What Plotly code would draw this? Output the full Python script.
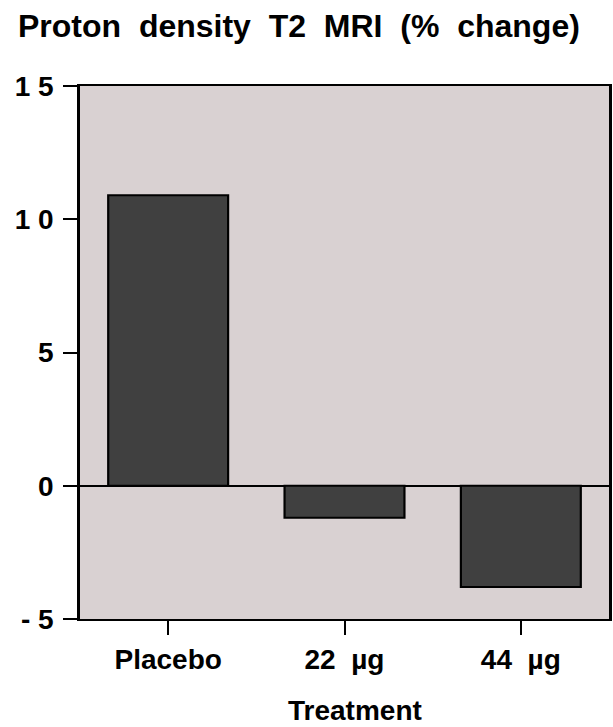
import plotly.graph_objects as go

categories = ["Placebo", "22  µg", "44  µg"]
values = [10.9, -1.2, -3.8]
y_tick_vals = [-5, 0, 5, 10, 15]
y_tick_text = ["- 5", "0", "5", "1 0", "1 5"]
title_text = "Proton  density  T2  MRI  (%  change)"
x_title = "Treatment"

FONT = "Liberation Sans, Arial, sans-serif"

fig = go.Figure()
fig.add_trace(go.Bar(
    x=list(range(len(categories))),
    y=values,
    width=0.68,
    marker=dict(color="#404040", line=dict(color="black", width=2.2)),
    hoverinfo="skip",
))

fig.update_layout(
    width=613, height=727,
    margin=dict(l=80, r=1, t=86, b=108),
    paper_bgcolor="white",
    plot_bgcolor="#d9d1d2",
    showlegend=False,
    font=dict(family=FONT, color="black", size=27, weight="bold"),
    annotations=[
        dict(text=title_text, xref="paper", yref="paper", x=0.414, y=1.0,
             yshift=60, xanchor="center", yanchor="middle", showarrow=False,
             font=dict(family=FONT, size=32, weight="bold", color="black")),
        dict(text=x_title, xref="paper", yref="paper", x=0.52, y=0,
             yshift=-91, xanchor="center", yanchor="middle", showarrow=False,
             font=dict(family=FONT, size=28, weight="bold", color="black")),
    ],
)

fig.update_xaxes(
    range=[-0.5, 2.5],
    tickvals=list(range(len(categories))),
    ticktext=categories,
    ticks="outside", ticklen=14, tickwidth=2, tickcolor="black",
    showline=True, linecolor="black", linewidth=2, mirror=True,
    showgrid=False, zeroline=False,
    tickfont=dict(family=FONT, size=28, weight="bold"),
)
fig.update_yaxes(
    range=[-5, 15],
    tickvals=y_tick_vals,
    ticktext=y_tick_text,
    ticks="outside", ticklen=14, tickwidth=2, tickcolor="black",
    ticklabelstandoff=4,
    showline=True, linecolor="black", linewidth=2.5, mirror=True,
    showgrid=False,
    zeroline=True, zerolinecolor="black", zerolinewidth=2,
    tickfont=dict(family=FONT, size=28, weight="bold"),
)

fig.write_html("out.html", config={"displayModeBar": False},
               post_script="document.body.style.margin='0';document.body.style.padding='0';")
